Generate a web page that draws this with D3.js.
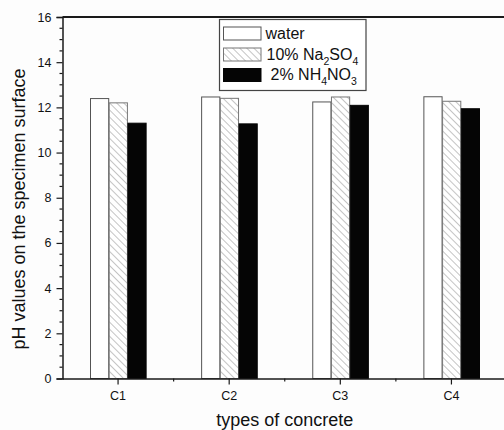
<!DOCTYPE html>
<html>
<head>
<meta charset="utf-8">
<script src="https://cdn.jsdelivr.net/npm/d3@7"></script>
<style>
  html, body { margin: 0; padding: 0; background: #fdfdfd; }
  svg { display: block; font-family: Arial, "Liberation Sans", sans-serif; }
</style>
</head>
<body>
<svg id="chart" width="504" height="430"></svg>
<script>
const categories = ["C1", "C2", "C3", "C4"];
const seriesNames = ["water", "10% Na2SO4", "2% NH4NO3"];
const water   = [12.39, 12.46, 12.24, 12.47];
const na2so4  = [12.20, 12.40, 12.46, 12.27];
const nh4no3  = [11.30, 11.27, 12.09, 11.94];
const yTicks  = [0, 2, 4, 6, 8, 10, 12, 14, 16];

(function () {
const series = [
  { key: "water", values: water },
  { key: "na2so4", values: na2so4 },
  { key: "nh4no3", values: nh4no3 }
];

const svg = d3.select("#chart");
const mLeft = 62.5, mRight = 507, mTop = 17, mBottom = 378.5;

const defs = svg.append("defs");
const pat = defs.append("pattern")
  .attr("id", "hatch")
  .attr("patternUnits", "userSpaceOnUse")
  .attr("width", 5).attr("height", 5)
  .attr("patternTransform", "rotate(-45)");
pat.append("rect").attr("width", 5).attr("height", 5).attr("fill", "#ffffff");
pat.append("line").attr("x1", 0).attr("y1", 0).attr("x2", 0).attr("y2", 5)
  .attr("stroke", "#8a8a8a").attr("stroke-width", 1);

const x = d3.scaleBand().domain(categories).range([mLeft, mRight]).padding(0);
const y = d3.scaleLinear().domain([0, 16]).range([mBottom, mTop]);
const xs = d3.scaleBand().domain(series.map(s => s.key))
  .range([0, x.bandwidth()]).paddingOuter(1.47).paddingInner(0);

const styles = {
  water:  { fill: "#ffffff", stroke: "#555555" },
  na2so4: { fill: "url(#hatch)", stroke: "#777777" },
  nh4no3: { fill: "#050505", stroke: "#050505" }
};

// bars
const groups = svg.append("g").selectAll("g").data(categories).join("g")
  .attr("transform", c => `translate(${x(c)},0)`);
groups.selectAll("rect")
  .data((c, i) => series.map(s => ({ key: s.key, v: s.values[i] })))
  .join("rect")
  .attr("x", d => xs(d.key) + 0.5)
  .attr("y", d => y(d.v))
  .attr("width", xs.bandwidth() - 0.5)
  .attr("height", d => y(0) - y(d.v))
  .attr("fill", d => styles[d.key].fill)
  .attr("stroke", d => styles[d.key].stroke)
  .attr("stroke-width", 1);

// frame top line
svg.append("line").attr("x1", mLeft).attr("x2", mRight).attr("y1", mTop).attr("y2", mTop)
  .attr("stroke", "#1a1a1a").attr("stroke-width", 2);

// Y axis
const yAxis = svg.append("g").attr("transform", `translate(${mLeft},0)`)
  .call(d3.axisLeft(y).tickValues(yTicks).tickSize(6).tickPadding(5).tickFormat(d3.format("d")));
yAxis.select(".domain").attr("stroke", "#1a1a1a").attr("stroke-width", 1.5);
yAxis.selectAll(".tick line").attr("stroke", "#1a1a1a").attr("stroke-width", 1.2);
yAxis.selectAll(".tick text").attr("font-size", 12.5).attr("fill", "#111")
  .attr("font-family", "Arial, 'Liberation Sans', sans-serif");
const minorY = d3.range(0, 16.01, 0.5).filter(v => !yTicks.includes(v));
svg.append("g").selectAll("line").data(minorY).join("line")
  .attr("x1", mLeft - 3).attr("x2", mLeft).attr("y1", d => y(d)).attr("y2", d => y(d))
  .attr("stroke", "#1a1a1a").attr("stroke-width", 1.2);

// X axis
const xAxis = svg.append("g").attr("transform", `translate(0,${mBottom})`)
  .call(d3.axisBottom(x).tickSize(6).tickPadding(7).tickSizeOuter(0));
xAxis.select(".domain").attr("stroke", "#1a1a1a").attr("stroke-width", 1.5);
xAxis.selectAll(".tick line").attr("stroke", "#1a1a1a").attr("stroke-width", 1.2);
xAxis.selectAll(".tick text").attr("font-size", 12.5).attr("fill", "#111")
  .attr("font-family", "Arial, 'Liberation Sans', sans-serif");
svg.append("g").selectAll("line").data(categories.slice(1)).join("line")
  .attr("x1", c => x(c)).attr("x2", c => x(c))
  .attr("y1", mBottom).attr("y2", mBottom + 3)
  .attr("stroke", "#1a1a1a").attr("stroke-width", 1.2);

// axis titles
svg.append("text").attr("x", (mLeft + mRight) / 2).attr("y", 426)
  .attr("text-anchor", "middle").attr("font-size", 18).attr("fill", "#111")
  .text("types of concrete");
svg.append("text").attr("transform", "translate(25,209) rotate(-90)")
  .attr("text-anchor", "middle").attr("font-size", 18).attr("fill", "#111")
  .text("pH values on the specimen surface");

// legend
const lg = svg.append("g");
lg.append("rect").attr("x", 219.5).attr("y", 19.5).attr("width", 146.5).attr("height", 71)
  .attr("fill", "#ffffff").attr("stroke", "#444").attr("stroke-width", 1.2);
const legendRows = [
  { key: "water", sy: 27, parts: [["water", false]], tx: 265.5 },
  { key: "na2so4", sy: 48, parts: [["10% Na", false], ["2", true], ["SO", false], ["4", true]], tx: 266.5 },
  { key: "nh4no3", sy: 68.5, parts: [["2% NH", false], ["4", true], ["NO", false], ["3", true]], tx: 270.5 }
];
legendRows.forEach(r => {
  lg.append("rect").attr("x", 223.5).attr("y", r.sy).attr("width", 37.5).attr("height", 13)
    .attr("fill", styles[r.key].fill).attr("stroke", styles[r.key].stroke).attr("stroke-width", 1);
  const t = lg.append("text").attr("x", r.tx).attr("y", r.sy + 11.5)
    .attr("font-size", 16).attr("fill", "#111");
  let sub = false;
  r.parts.forEach(([s, isSub]) => {
    const ts = t.append("tspan").text(s);
    if (isSub && !sub) { ts.attr("dy", 5).attr("font-size", 10.5); sub = true; }
    else if (!isSub && sub) { ts.attr("dy", -5); sub = false; }
    else if (isSub) { ts.attr("font-size", 10.5); }
  });
});
})();
</script>
</body>
</html>
